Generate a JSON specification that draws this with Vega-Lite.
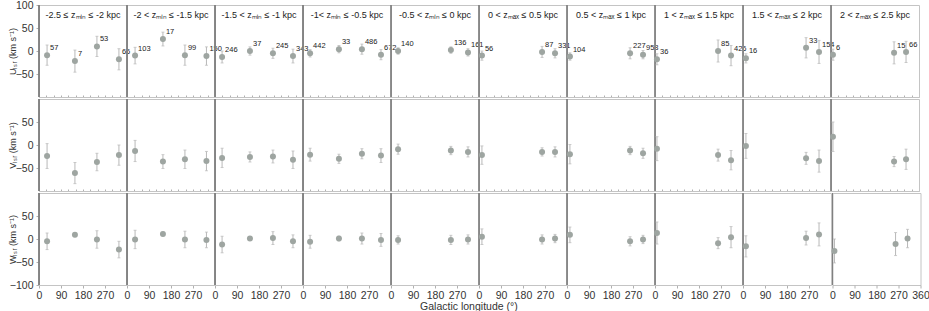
{
  "$schema": "https://vega.github.io/schema/vega-lite/v6.json",
  "padding": {"left": 8, "top": 0, "right": 0, "bottom": 0},
  "config": {
    "font": "Liberation Sans",
    "view": {"stroke": "#c4c4c4", "strokeWidth": 1},
    "axis": {"labelFontSize": 10.5, "labelColor": "#333333", "labelOverlap": false, "labelFlush": false, "labelBound": false, "labelSeparation": 0, "domain": false, "tickColor": "#b0b0b0", "tickSize": 3, "grid": false, "titleFontWeight": "normal", "titleColor": "#333333", "titleFontSize": 9},
    "axisX": {"labelOverlap": false, "labelFlush": false},
    "axisY": {"labelOverlap": false, "labelFlush": false},
    "axisQuantitative": {"labelOverlap": false, "labelFlush": false},
    "title": {"fontWeight": "normal", "fontSize": 10.5, "color": "#333333"}
  },
  "title": {"text": "Galactic longitude (°)", "orient": "bottom", "anchor": "middle", "offset": 1},
  "datasets": {
    "pts": [
      {"panel": 1, "title": "-2.5 ≤ zₘᵢₙ ≤ -2 kpc", "l": 33, "n": "57", "U": -9, "Ue": 22, "V": -24, "Ve": 27, "W": -5, "We": 18},
      {"panel": 1, "title": "-2.5 ≤ zₘᵢₙ ≤ -2 kpc", "l": 147, "n": "7", "U": -22, "Ue": 24, "V": -61, "Ve": 23, "W": 9, "We": 4},
      {"panel": 1, "title": "-2.5 ≤ zₘᵢₙ ≤ -2 kpc", "l": 237, "n": "53", "U": 10, "Ue": 22, "V": -37, "Ve": 19, "W": -1, "We": 19},
      {"panel": 1, "title": "-2.5 ≤ zₘᵢₙ ≤ -2 kpc", "l": 327, "n": "66", "U": -18, "Ue": 23, "V": -22, "Ve": 22, "W": -23, "We": 18},
      {"panel": 2, "title": "-2 < zₘᵢₙ ≤ -1.5 kpc", "l": 33, "n": "103", "U": -10, "Ue": 18, "V": -13, "Ve": 23, "W": -1, "We": 20},
      {"panel": 2, "title": "-2 < zₘᵢₙ ≤ -1.5 kpc", "l": 147, "n": "17", "U": 26, "Ue": 15, "V": -36, "Ve": 15, "W": 11, "We": 4},
      {"panel": 2, "title": "-2 < zₘᵢₙ ≤ -1.5 kpc", "l": 237, "n": "99", "U": -9, "Ue": 22, "V": -31, "Ve": 20, "W": -1, "We": 18},
      {"panel": 2, "title": "-2 < zₘᵢₙ ≤ -1.5 kpc", "l": 325, "n": "150", "U": -11, "Ue": 20, "V": -35, "Ve": 21, "W": -2, "We": 17},
      {"panel": 3, "title": "-1.5 < zₘᵢₙ ≤ -1 kpc", "l": 29, "n": "246", "U": -13, "Ue": 13, "V": -28, "Ve": 21, "W": -12, "We": 18},
      {"panel": 3, "title": "-1.5 < zₘᵢₙ ≤ -1 kpc", "l": 143, "n": "37", "U": 0, "Ue": 9, "V": -26, "Ve": 11, "W": 1, "We": 4},
      {"panel": 3, "title": "-1.5 < zₘᵢₙ ≤ -1 kpc", "l": 237, "n": "245", "U": -5, "Ue": 11, "V": -25, "Ve": 14, "W": 2, "We": 14},
      {"panel": 3, "title": "-1.5 < zₘᵢₙ ≤ -1 kpc", "l": 319, "n": "343", "U": -11, "Ue": 15, "V": -32, "Ve": 19, "W": -5, "We": 14},
      {"panel": 4, "title": "-1< zₘᵢₙ ≤ -0.5 kpc", "l": 29, "n": "442", "U": -5, "Ue": 8, "V": -21, "Ve": 14, "W": -6, "We": 14},
      {"panel": 4, "title": "-1< zₘᵢₙ ≤ -0.5 kpc", "l": 147, "n": "33", "U": 4, "Ue": 8, "V": -30, "Ve": 10, "W": 1, "We": 5},
      {"panel": 4, "title": "-1< zₘᵢₙ ≤ -0.5 kpc", "l": 241, "n": "486", "U": 4, "Ue": 11, "V": -19, "Ve": 11, "W": 1, "We": 12},
      {"panel": 4, "title": "-1< zₘᵢₙ ≤ -0.5 kpc", "l": 319, "n": "672", "U": -8, "Ue": 11, "V": -23, "Ve": 15, "W": -2, "We": 14},
      {"panel": 5, "title": "-0.5 < zₘᵢₙ ≤ 0 kpc", "l": 29, "n": "140", "U": 0, "Ue": 7, "V": -9, "Ve": 11, "W": -2, "We": 9},
      {"panel": 5, "title": "-0.5 < zₘᵢₙ ≤ 0 kpc", "l": 245, "n": "136", "U": 2, "Ue": 7, "V": -12, "Ve": 9, "W": -2, "We": 10},
      {"panel": 5, "title": "-0.5 < zₘᵢₙ ≤ 0 kpc", "l": 315, "n": "161", "U": -3, "Ue": 8, "V": -15, "Ve": 11, "W": -1, "We": 10},
      {"panel": 6, "title": "0 < zₘₐₓ ≤ 0.5 kpc", "l": 12, "n": "56", "U": -10, "Ue": 10, "V": -22, "Ve": 20, "W": 5, "We": 17},
      {"panel": 6, "title": "0 < zₘₐₓ ≤ 0.5 kpc", "l": 258, "n": "87", "U": -2, "Ue": 12, "V": -15, "Ve": 9, "W": -1, "We": 10},
      {"panel": 6, "title": "0 < zₘₐₓ ≤ 0.5 kpc", "l": 311, "n": "331", "U": -5, "Ue": 10, "V": -15, "Ve": 11, "W": 1, "We": 9},
      {"panel": 7, "title": "0.5 < zₘₐₓ ≤ 1 kpc", "l": 12, "n": "104", "U": -12, "Ue": 8, "V": -20, "Ve": 21, "W": 9, "We": 17},
      {"panel": 7, "title": "0.5 < zₘₐₓ ≤ 1 kpc", "l": 258, "n": "227", "U": -5, "Ue": 12, "V": -12, "Ve": 9, "W": -5, "We": 10},
      {"panel": 7, "title": "0.5 < zₘₐₓ ≤ 1 kpc", "l": 311, "n": "958", "U": -8, "Ue": 9, "V": -18, "Ve": 11, "W": -1, "We": 9},
      {"panel": 8, "title": "1 < zₘₐₓ ≤ 1.5 kpc", "l": 8, "n": "36", "U": -18, "Ue": 12, "V": -8, "Ve": 26, "W": 13, "We": 24},
      {"panel": 8, "title": "1 < zₘₐₓ ≤ 1.5 kpc", "l": 258, "n": "85", "U": 0, "Ue": 24, "V": -22, "Ve": 13, "W": -9, "We": 12},
      {"panel": 8, "title": "1 < zₘₐₓ ≤ 1.5 kpc", "l": 311, "n": "426", "U": -10, "Ue": 22, "V": -33, "Ve": 21, "W": 4, "We": 23},
      {"panel": 9, "title": "1.5 < zₘₐₓ ≤ 2 kpc", "l": 12, "n": "16", "U": -16, "Ue": 10, "V": -2, "Ve": 27, "W": -16, "We": 23},
      {"panel": 9, "title": "1.5 < zₘₐₓ ≤ 2 kpc", "l": 258, "n": "33", "U": 7, "Ue": 22, "V": -29, "Ve": 13, "W": 2, "We": 15},
      {"panel": 9, "title": "1.5 < zₘₐₓ ≤ 2 kpc", "l": 311, "n": "154", "U": -2, "Ue": 25, "V": -35, "Ve": 24, "W": 10, "We": 25},
      {"panel": 10, "title": "2 < zₘₐₓ ≤ 2.5 kpc", "l": 8, "n": "6", "U": -8, "Ue": 12, "V": 18, "Ve": 32, "W": -26, "We": 26},
      {"panel": 10, "title": "2 < zₘₐₓ ≤ 2.5 kpc", "l": 258, "n": "15", "U": -4, "Ue": 24, "V": -36, "Ve": 11, "W": -11, "We": 25},
      {"panel": 10, "title": "2 < zₘₐₓ ≤ 2.5 kpc", "l": 307, "n": "66", "U": -2, "Ue": 23, "V": -31, "Ve": 22, "W": 1, "We": 20}
    ]
  },
  "vconcat": [
    {
      "data": {"name": "pts"},
      "facet": {"column": {"field": "panel", "type": "ordinal", "title": null, "header": {"labels": false, "title": null}}},
      "spacing": 0,
      "bounds": "flush",
      "spec": {
        "width": 88,
        "height": 92,
        "encoding": {
          "x": {"field": "l", "type": "quantitative", "scale": {"domain": [0, 360], "nice": false}, "axis": {"values": [0, 30, 60, 90, 120, 150, 180, 210, 240, 270, 300, 330, 360], "labels": false, "title": null, "tickSize": -2}},
          "y": {"field": "U", "type": "quantitative", "scale": {"domain": [-100, 100], "nice": false}, "axis": {"values": [-50, 0, 50, 100], "labelOverlap": false, "labelFlush": false, "labelPadding": 3, "title": "Uₗₛᵣ (km s⁻¹)", "titleX": -27, "titleY": 46, "titleAlign": "center", "titleBaseline": "middle"}}
        },
        "layer": [
          {"mark": {"type": "rule", "color": "#808080", "strokeWidth": 1}, "encoding": {"x": {"datum": 0, "type": "quantitative"}, "y": null}},
          {"mark": {"type": "errorbar", "color": "#b8b8b8", "ticks": {"size": 3, "color": "#b8b8b8"}, "thickness": 1}, "encoding": {"yError": {"field": "Ue"}}},
          {"mark": {"type": "point", "filled": true, "size": 36, "color": "#9ea5a1", "opacity": 1}},
          {"mark": {"type": "text", "fontSize": 7.5, "align": "left", "baseline": "middle", "dx": 3, "dy": -7, "color": "#222222"}, "encoding": {"text": {"field": "n"}}},
          {"transform": [{"filter": "datum.l >= 300"}],
           "mark": {"type": "text", "fontSize": 9, "align": "center", "baseline": "middle", "color": "#222222"},
           "encoding": {"x": {"datum": 180, "type": "quantitative"}, "y": {"datum": 79, "type": "quantitative"}, "text": {"field": "title"}}}
        ]
      }
    },
    {
      "data": {"name": "pts"},
      "facet": {"column": {"field": "panel", "type": "ordinal", "title": null, "header": {"labels": false, "title": null}}},
      "spacing": 0,
      "bounds": "flush",
      "spec": {
        "width": 88,
        "height": 92,
        "encoding": {
          "x": {"field": "l", "type": "quantitative", "scale": {"domain": [0, 360], "nice": false}, "axis": {"values": [0, 30, 60, 90, 120, 150, 180, 210, 240, 270, 300, 330, 360], "labels": false, "title": null, "tickSize": -2}},
          "y": {"field": "V", "type": "quantitative", "scale": {"domain": [-100, 100], "nice": false}, "axis": {"values": [-50, 0, 50], "labelOverlap": false, "labelFlush": false, "labelPadding": 3, "title": "Vₗₛᵣ (km s⁻¹)", "titleX": -27, "titleY": 46, "titleAlign": "center", "titleBaseline": "middle"}}
        },
        "layer": [
          {"mark": {"type": "rule", "color": "#808080", "strokeWidth": 1}, "encoding": {"x": {"datum": 0, "type": "quantitative"}, "y": null}},
          {"mark": {"type": "errorbar", "color": "#b8b8b8", "ticks": {"size": 3, "color": "#b8b8b8"}, "thickness": 1}, "encoding": {"yError": {"field": "Ve"}}},
          {"mark": {"type": "point", "filled": true, "size": 36, "color": "#9ea5a1", "opacity": 1}}
        ]
      }
    },
    {
      "hconcat": [
        {
          "data": {"name": "pts"},
          "transform": [{"filter": "datum.panel <= 9"}],
          "facet": {"column": {"field": "panel", "type": "ordinal", "title": null, "header": {"labels": false, "title": null}}},
          "spacing": 0,
          "bounds": "flush",
          "spec": {
            "width": 88,
            "height": 92,
            "encoding": {
              "x": {"field": "l", "type": "quantitative", "scale": {"domain": [0, 360], "nice": false}, "axis": {"values": [0, 90, 180, 270], "labelOverlap": false, "labelFlush": false, "labelPadding": 2, "title": null, "tickSize": 3}},
              "y": {"field": "W", "type": "quantitative", "scale": {"domain": [-100, 100], "nice": false}, "axis": {"values": [-100, -50, 0, 50], "labelOverlap": false, "labelFlush": false, "labelPadding": 3, "title": "Wₗₛᵣ (km s⁻¹)", "titleX": -27, "titleY": 46, "titleAlign": "center", "titleBaseline": "middle"}}
            },
            "layer": [
              {"mark": {"type": "rule", "color": "#808080", "strokeWidth": 1}, "encoding": {"x": {"datum": 0, "type": "quantitative"}, "y": null}},
              {"mark": {"type": "errorbar", "color": "#b8b8b8", "ticks": {"size": 3, "color": "#b8b8b8"}, "thickness": 1}, "encoding": {"yError": {"field": "We"}}},
              {"mark": {"type": "point", "filled": true, "size": 36, "color": "#9ea5a1", "opacity": 1}}
            ]
          }
        },
        {
          "data": {"name": "pts"},
          "transform": [{"filter": "datum.panel == 10"}],
          "width": 88,
          "height": 92,
          "encoding": {
            "x": {"field": "l", "type": "quantitative", "scale": {"domain": [0, 360], "nice": false}, "axis": {"values": [0, 90, 180, 270, 360], "labelOverlap": false, "labelFlush": false, "labelPadding": 2, "title": null, "tickSize": 3}},
            "y": {"field": "W", "type": "quantitative", "scale": {"domain": [-100, 100], "nice": false}, "axis": null}
          },
          "layer": [
            {"mark": {"type": "rule", "color": "#808080", "strokeWidth": 1}, "encoding": {"x": {"datum": 0, "type": "quantitative"}, "y": null}},
            {"mark": {"type": "errorbar", "color": "#b8b8b8", "ticks": {"size": 3, "color": "#b8b8b8"}, "thickness": 1}, "encoding": {"yError": {"field": "We"}}},
            {"mark": {"type": "point", "filled": true, "size": 36, "color": "#9ea5a1", "opacity": 1}}
          ]
        }
      ],
      "spacing": -3.5
    }
  ],
  "spacing": 0
}
